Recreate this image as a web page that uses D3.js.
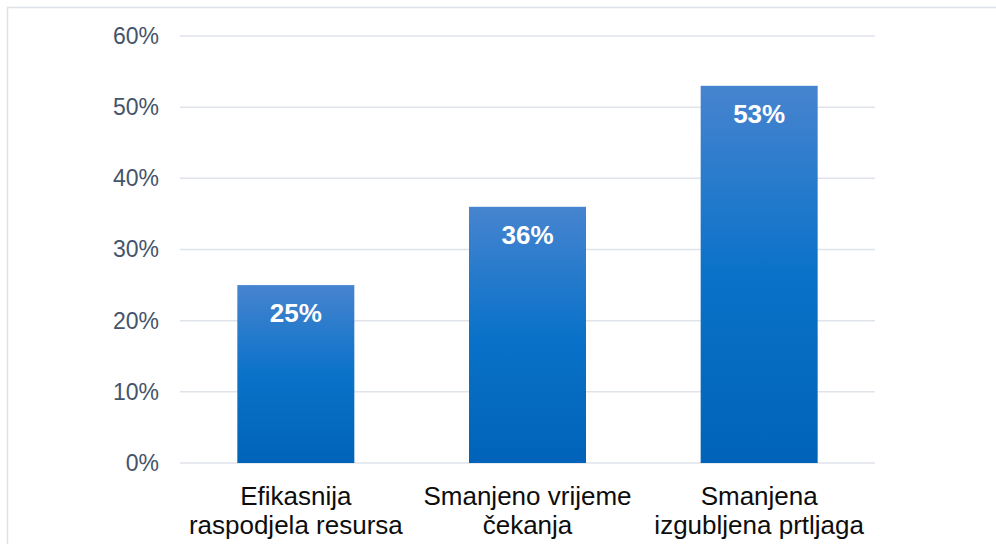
<!DOCTYPE html>
<html>
<head>
<meta charset="utf-8">
<script src="https://cdn.jsdelivr.net/npm/d3@7"></script>
<style>
  body { margin: 0; background: #fff; }
  svg { display: block; font-family: "Liberation Sans", Arial, sans-serif; }
  .grid line { stroke: #dfe3ea; stroke-width: 1.5; }
</style>
</head>
<body>
<svg id="chart" width="996" height="544"></svg>
<script>
let categories = [["Efikasnija", "raspodjela resursa"], ["Smanjeno vrijeme", "čekanja"], ["Smanjena", "izgubljena prtljaga"]];
let values = [25, 36, 53];
let yTicks = [0, 10, 20, 30, 40, 50, 60];

let width = 996, height = 544;
let margin = { left: 180, right: 121, top: 36, bottom: 81 }; // plot 180..875, 36..463

let svg = d3.select("#chart");

// outer frame (only left and top visible)
svg.append("rect")
  .attr("x", 7.5).attr("y", 7.5)
  .attr("width", 1000).attr("height", 600)
  .attr("fill", "none")
  .attr("stroke", "#dde2e9")
  .attr("stroke-width", 1.5);

let x = d3.scaleBand()
  .domain(d3.range(categories.length))
  .range([margin.left, width - margin.right])
  .paddingInner(0.495)
  .paddingOuter(0.2475);

let y = d3.scaleLinear()
  .domain([0, 60])
  .range([height - margin.bottom, margin.top]);

// gradient for bars
let defs = svg.append("defs");
let grad = defs.append("linearGradient")
  .attr("id", "barGrad")
  .attr("x1", 0).attr("y1", 0).attr("x2", 0).attr("y2", 1);
grad.append("stop").attr("offset", "0%").attr("stop-color", "#4784cf");
grad.append("stop").attr("offset", "50%").attr("stop-color", "#0a72c9");
grad.append("stop").attr("offset", "100%").attr("stop-color", "#0063b9");

// gridlines
svg.append("g")
  .attr("class", "grid")
  .selectAll("line")
  .data(yTicks)
  .join("line")
  .attr("x1", margin.left)
  .attr("x2", width - margin.right)
  .attr("y1", d => y(d))
  .attr("y2", d => y(d));

// y axis labels
let yAxis = d3.axisLeft(y)
  .tickValues(yTicks)
  .tickFormat(d => d + "%")
  .tickSize(0)
  .tickPadding(21);

svg.append("g")
  .attr("transform", "translate(" + margin.left + ",0)")
  .call(yAxis)
  .call(g => g.select(".domain").remove())
  .call(g => g.selectAll("text")
    .attr("font-size", 23)
    .attr("font-family", "Liberation Sans, Arial, sans-serif")
    .attr("fill", "#44546a"));

// bars
svg.append("g")
  .selectAll("rect")
  .data(values)
  .join("rect")
  .attr("x", (d, i) => x(i))
  .attr("y", d => y(d))
  .attr("width", x.bandwidth())
  .attr("height", d => y(0) - y(d))
  .attr("fill", "url(#barGrad)");

// value labels
svg.append("g")
  .selectAll("text")
  .data(values)
  .join("text")
  .attr("x", (d, i) => x(i) + x.bandwidth() / 2)
  .attr("y", d => y(d) + 37)
  .attr("text-anchor", "middle")
  .attr("font-size", 26)
  .attr("font-weight", "bold")
  .attr("fill", "#fff")
  .text(d => d + "%");

// category labels
let cat = svg.append("g")
  .selectAll("text")
  .data(categories)
  .join("text")
  .attr("text-anchor", "middle")
  .attr("font-size", 26)
  .attr("fill", "#0d0d0d");

cat.selectAll("tspan")
  .data((d, i) => d.map(line => ({ line: line, i: i })))
  .join("tspan")
  .attr("x", d => x(d.i) + x.bandwidth() / 2)
  .attr("y", (d, j) => 505 + j * 29)
  .text(d => d.line);
</script>
</body>
</html>
